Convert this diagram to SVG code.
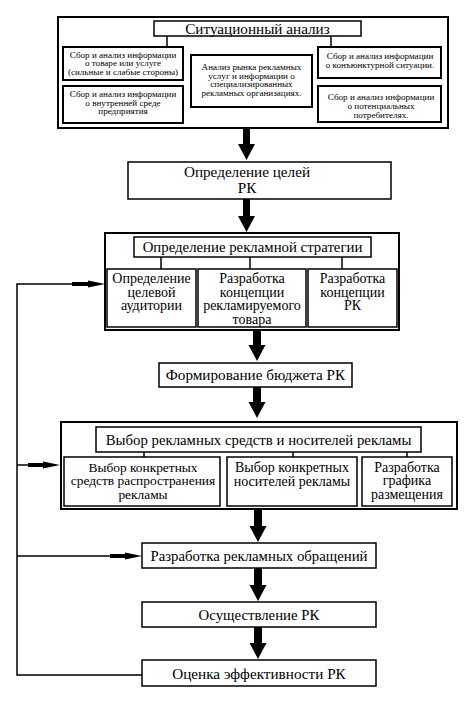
<svg xmlns="http://www.w3.org/2000/svg" width="474" height="701" viewBox="0 0 474 701">
<style>
  .box{fill:#fff;stroke:#000;stroke-width:1.5}
  .outer{fill:#fff;stroke:#000;stroke-width:2}
  .sm{fill:#fff;stroke:#000;stroke-width:2}
  text{font-family:"Liberation Serif","Times New Roman",serif;fill:#000;text-anchor:middle}
  .t16{font-size:15.2px}
  .t15{font-size:14.8px}
  .sub{font-size:14px}
  .t14{font-size:13.4px}
  .t10{font-size:9.1px}
  .ln{fill:none;stroke:#000;stroke-width:1.5}
  .thick{fill:none;stroke:#000;stroke-width:4}
  .big{fill:#000}
</style>
<rect width="474" height="701" fill="#fff"/>

<g id="situation">
  <rect class="outer" x="58" y="17" width="390" height="111"/>
  <rect class="box" x="154" y="21" width="207" height="15"/>
  <text x="257.5" y="33.5" style="font-size:15.2px">Ситуационный анализ</text>
  <line class="ln" x1="167" y1="36" x2="167" y2="47"/>
  <line class="ln" x1="331" y1="36" x2="331" y2="47"/>
</g>
<g id="sit-goods">
  <rect class="sm" x="63" y="47" width="120" height="33"/>
  <text class="t10" x="123" y="57.5">Сбор и анализ информации</text>
  <text class="t10" x="123" y="66.2">о товаре или услуге</text>
  <text class="t10" x="123" y="74.9">(сильные и слабые стороны)</text>
</g>
<g id="sit-internal">
  <rect class="sm" x="63" y="86" width="120" height="37"/>
  <text class="t10" x="123" y="97">Сбор и анализ информации</text>
  <text class="t10" x="123" y="105.7">о внутренней среде</text>
  <text class="t10" x="123" y="114.4">предприятия</text>
</g>
<g id="sit-market">
  <rect class="sm" x="191" y="55" width="121" height="52"/>
  <text class="t10" x="251.5" y="70">Анализ рынка рекламных</text>
  <text class="t10" x="251.5" y="78.5">услуг и информации о</text>
  <text class="t10" x="251.5" y="87">специализированных</text>
  <text class="t10" x="251.5" y="95.5">рекламных организациях.</text>
</g>
<g id="sit-conj">
  <rect class="sm" x="318" y="47" width="123" height="31"/>
  <text class="t10" x="380" y="59">Сбор и анализ информации</text>
  <text class="t10" x="380" y="67.7">о конъюнктурной ситуации.</text>
</g>
<g id="sit-consumers">
  <rect class="sm" x="318" y="86" width="123" height="36"/>
  <text class="t10" x="381" y="100.3">Сбор и анализ информации</text>
  <text class="t10" x="381" y="109">о потенциальных</text>
  <text class="t10" x="381" y="117.7">потребителях.</text>
</g>

<g id="goals">
  <rect class="box" x="128" y="162" width="263" height="37"/>
  <text class="t16" x="247" y="177">Определение целей</text>
  <text class="t16" x="247" y="193">РК</text>
</g>

<g id="strategy">
  <rect class="outer" x="105" y="233" width="294" height="97"/>
  <rect class="box" x="134" y="237" width="237" height="20"/>
  <text class="t15" x="252.5" y="252">Определение рекламной стратегии</text>
  <line class="ln" x1="161" y1="257" x2="161" y2="269"/>
  <line class="ln" x1="250" y1="257" x2="250" y2="269"/>
  <line class="ln" x1="342" y1="257" x2="342" y2="269"/>
</g>
<g id="audience">
  <rect class="box" x="107" y="269" width="89" height="58"/>
  <text class="sub" x="151.5" y="283">Определение</text>
  <text class="sub" x="151.5" y="296.5">целевой</text>
  <text class="sub" x="151.5" y="310">аудитории</text>
</g>
<g id="product-concept">
  <rect class="box" x="198" y="269" width="108" height="58"/>
  <text class="sub" x="252" y="283">Разработка</text>
  <text class="sub" x="252" y="296.5">концепции</text>
  <text class="sub" x="252" y="310">рекламируемого</text>
  <text class="sub" x="252" y="323.5">товара</text>
</g>
<g id="rk-concept">
  <rect class="box" x="308" y="269" width="89" height="58"/>
  <text class="sub" x="352.5" y="283">Разработка</text>
  <text class="sub" x="352.5" y="296.5">концепции</text>
  <text class="sub" x="352.5" y="310">РК</text>
</g>

<g id="budget">
  <rect class="box" x="159" y="363" width="193" height="24"/>
  <text class="t16" x="255.5" y="380">Формирование бюджета РК</text>
</g>

<g id="media">
  <rect class="outer" x="61" y="422" width="396" height="87"/>
  <rect class="box" x="96" y="427" width="325" height="25"/>
  <text class="t15" x="258.5" y="445">Выбор рекламных средств и носителей рекламы</text>
  <line class="ln" x1="144" y1="452" x2="144" y2="457"/>
  <line class="ln" x1="293" y1="452" x2="293" y2="457"/>
  <line class="ln" x1="407" y1="452" x2="407" y2="457"/>
</g>
<g id="media-means">
  <rect class="box" x="64" y="457" width="156" height="49"/>
  <text class="t14" x="143" y="471.5">Выбор конкретных</text>
  <text class="t14" x="143" y="485">средств распространения</text>
  <text class="t14" x="143" y="498.5">рекламы</text>
</g>
<g id="media-carriers">
  <rect class="box" x="227" y="457" width="130" height="49"/>
  <text class="sub" x="292" y="472">Выбор конкретных</text>
  <text class="sub" x="292" y="485.5">носителей рекламы</text>
</g>
<g id="schedule">
  <rect class="box" x="362" y="457" width="90" height="49"/>
  <text class="sub" x="407" y="471.5">Разработка</text>
  <text class="sub" x="407" y="485">графика</text>
  <text class="sub" x="407" y="498.5">размещения</text>
</g>

<g id="messages">
  <rect class="box" x="142" y="543" width="234" height="25"/>
  <text class="t15" x="259" y="561">Разработка рекламных обращений</text>
</g>
<g id="implementation">
  <rect class="box" x="142" y="602" width="234" height="25"/>
  <text class="t15" x="259" y="620">Осуществление РК</text>
</g>
<g id="evaluation">
  <rect class="box" x="142" y="660" width="234" height="26"/>
  <text class="t16" x="259" y="678.5">Оценка эффективности РК</text>
</g>

<g id="connectors">
  <polygon class="big" points="243,128 250,128 250,144 255,144 246.5,160 238,144 243,144"/>
  <polygon class="big" points="243,199 250,199 250,216 255,216 246.5,232 238,216 243,216"/>
  <polygon class="big" points="253,330 261,330 261,345 265.5,345 257,361 248.5,345 253,345"/>
  <polygon class="big" points="253,387 261,387 261,402 265.5,402 257,418 248.5,402 253,402"/>
  <polygon class="big" points="254,509 262,509 262,526 266.5,526 258,542 249.5,526 254,526"/>
  <polygon class="big" points="254,568 262,568 262,585 266.5,585 258,601 249.5,585 254,585"/>
  <polygon class="big" points="254,627 262,627 262,643 266.5,643 258,659 249.5,643 254,643"/>

  <polyline class="ln" points="142,675 17,675 17,284 90,284"/>
  <line class="thick" x1="72" y1="284" x2="90" y2="284"/>
  <polygon class="big" points="88,280.5 105,284 88,287.5"/>

  <line class="ln" x1="17" y1="465" x2="30" y2="465"/>
  <line class="thick" x1="28" y1="465" x2="45" y2="465"/>
  <polygon class="big" points="43,461.5 60,465 43,468.5"/>

  <line class="ln" x1="17" y1="556" x2="112" y2="556"/>
  <line class="thick" x1="110" y1="556" x2="127" y2="556"/>
  <polygon class="big" points="125,552.5 142,556 125,559.5"/>
</g>
</svg>
